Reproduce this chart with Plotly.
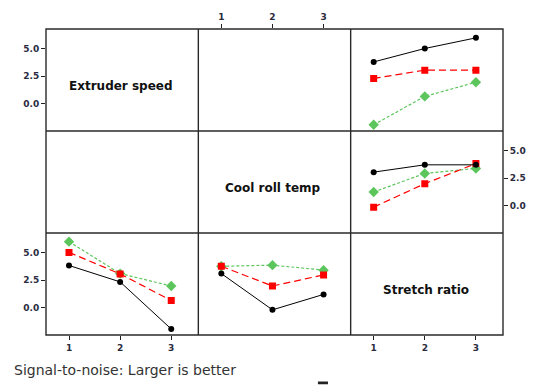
import plotly.graph_objects as go
from plotly.subplots import make_subplots

levels = [1, 2, 3]
factors = ["Extruder speed", "Cool roll temp", "Stretch ratio"]

# Row: Extruder speed, column: Stretch ratio (series = extruder speed levels)
es_sr_black = [3.78, 4.99, 5.95]
es_sr_red = [2.29, 3.04, 3.04]
es_sr_green = [-1.89, 0.67, 1.95]

# Row: Cool roll temp, column: Stretch ratio (series = cool roll temp levels)
cr_sr_black = [3.04, 3.70, 3.70]
cr_sr_red = [-0.12, 2.00, 3.81]
cr_sr_green = [1.25, 2.92, 3.37]

# Row: Stretch ratio, column: Extruder speed (series = stretch ratio levels)
sr_es_black = [3.82, 2.34, -1.91]
sr_es_red = [5.00, 3.06, 0.66]
sr_es_green = [5.97, 3.09, 1.97]

# Row: Stretch ratio, column: Cool roll temp (series = stretch ratio levels)
sr_cr_black = [3.09, -0.18, 1.21]
sr_cr_red = [3.75, 1.97, 2.97]
sr_cr_green = [3.75, 3.85, 3.40]

y_ticks = [0.0, 2.5, 5.0]
y_tick_text = ["0.0", "2.5", "5.0"]
x_tick_text = ["1", "2", "3"]
footer = "Signal-to-noise: Larger is better"

BLACK = "#000000"
RED = "#ff0000"
GREEN = "#5cc65c"

fig = make_subplots(rows=3, cols=3, horizontal_spacing=0, vertical_spacing=0)


def add_set(row, col, b, r, g):
    fig.add_trace(go.Scatter(x=levels, y=g, mode="lines+markers",
                             line=dict(color=GREEN, width=1.2, dash="3px,2px"),
                             marker=dict(symbol="diamond", size=8, color=GREEN),
                             showlegend=False), row=row, col=col)
    fig.add_trace(go.Scatter(x=levels, y=r, mode="lines+markers",
                             line=dict(color=RED, width=1.2, dash="7px,4px"),
                             marker=dict(symbol="square", size=7, color=RED),
                             showlegend=False), row=row, col=col)
    fig.add_trace(go.Scatter(x=levels, y=b, mode="lines+markers",
                             line=dict(color=BLACK, width=1),
                             marker=dict(symbol="circle", size=6, color=BLACK),
                             showlegend=False), row=row, col=col)


add_set(1, 3, es_sr_black, es_sr_red, es_sr_green)
add_set(2, 3, cr_sr_black, cr_sr_red, cr_sr_green)
add_set(3, 1, sr_es_black, sr_es_red, sr_es_green)
add_set(3, 2, sr_cr_black, sr_cr_red, sr_cr_green)

# empty placeholder traces so every cell's axes are drawn
for (r, c) in [(1, 1), (1, 2), (2, 1), (2, 2), (3, 3)]:
    fig.add_trace(go.Scatter(x=[None], y=[None], mode="markers",
                             showlegend=False, hoverinfo="skip"), row=r, col=c)

tickfont = dict(family="DejaVu Sans", size=9, color="#2b2b40", weight="bold")

for r in range(1, 4):
    for c in range(1, 4):
        fig.update_xaxes(row=r, col=c, range=[0.55, 3.53], showgrid=False,
                         zeroline=False, showline=False, tickvals=levels,
                         ticktext=x_tick_text, showticklabels=False, ticks="",
                         tickfont=tickfont, ticklen=4, tickcolor="#222")
        fig.update_yaxes(row=r, col=c, range=[-2.45, 6.75], showgrid=False,
                         zeroline=False, showline=False, tickvals=y_ticks,
                         ticktext=y_tick_text, showticklabels=False, ticks="",
                         tickfont=tickfont, ticklen=4, tickcolor="#222")

# visible ticks
fig.update_xaxes(row=1, col=2, side="top", ticks="outside", showticklabels=True)
fig.update_xaxes(row=3, col=1, ticks="outside", showticklabels=True)
fig.update_xaxes(row=3, col=3, ticks="outside", showticklabels=True)
fig.update_yaxes(row=1, col=1, ticks="outside", showticklabels=True)
fig.update_yaxes(row=3, col=1, ticks="outside", showticklabels=True)
fig.update_yaxes(row=2, col=3, side="right", ticks="outside", showticklabels=True)

# grid frame
frame = dict(color="#2a2a2a", width=1.4)
fig.add_shape(type="rect", xref="paper", yref="paper", x0=0, x1=1, y0=0, y1=1,
              line=frame, layer="above")
for f in (1 / 3, 2 / 3):
    fig.add_shape(type="line", xref="paper", yref="paper", x0=f, x1=f, y0=0, y1=1,
                  line=frame, layer="above")
    fig.add_shape(type="line", xref="paper", yref="paper", x0=0, x1=1, y0=f, y1=f,
                  line=frame, layer="above")

for i, name in enumerate(factors):
    n = i * 4 + 1
    suffix = "" if n == 1 else str(n)
    fig.add_annotation(text="<b>" + name + "</b>", x=2.02, y=1.6,
                       xref="x" + suffix, yref="y" + suffix,
                       showarrow=False,
                       font=dict(family="DejaVu Sans", size=12, color="#111"))

fig.add_annotation(text=footer, xref="paper", yref="paper", x=-0.074, y=-0.116,
                   xanchor="left", yanchor="middle", showarrow=False,
                   font=dict(family="DejaVu Sans", size=14, color="#333"))

fig.add_shape(type="rect", xref="paper", yref="paper", x0=0.595, x1=0.617,
              y0=-0.161, y1=-0.152, fillcolor="#222", line=dict(width=0))

fig.update_layout(width=538, height=385, margin=dict(l=46, r=30, t=25, b=50),
                  plot_bgcolor="white", paper_bgcolor="white")

fig.write_html("out.html")
